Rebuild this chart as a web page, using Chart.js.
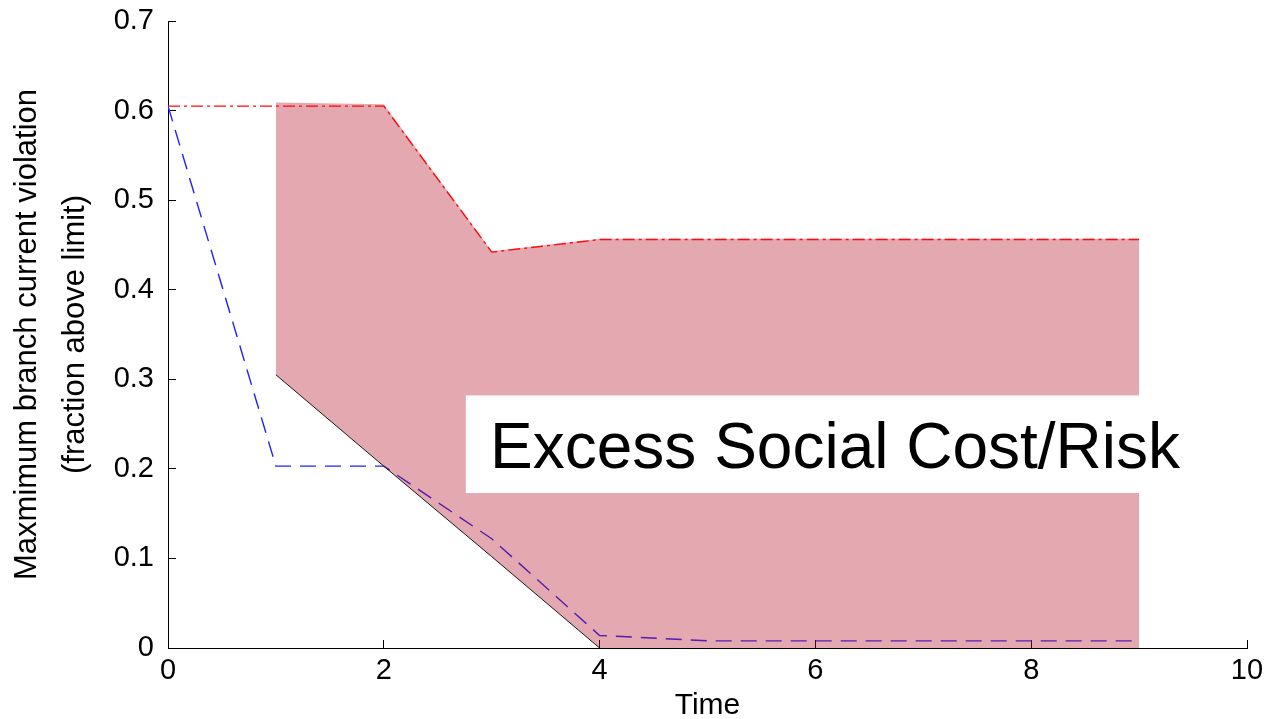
<!DOCTYPE html>
<html>
<head>
<meta charset="utf-8">
<script src="https://cdn.jsdelivr.net/npm/chart.js@4/dist/chart.umd.min.js"></script>
<style>
  html, body { margin: 0; padding: 0; background: #ffffff; }
  #wrap { width: 1271px; height: 719px; }
</style>
</head>
<body>
<div id="wrap"><canvas id="chart" width="1271" height="719"></canvas></div>
<script>
// Time steps of the simulation
const timeSteps = [0, 1, 2, 3, 4, 5, 6, 7, 8, 9];
// Worst-case violation (red dash-dot)
const worstCase = [0.605, 0.605, 0.605, 0.442, 0.456, 0.456, 0.456, 0.456, 0.456, 0.456];
// Controlled violation (blue dashed)
const controlled = [0.605, 0.203, 0.203, 0.122, 0.014, 0.008, 0.008, 0.008, 0.008, 0.008];

// Shaded band between the ideal bound and the worst case
const bandTime = [1, 2, 3, 4, 5, 6, 7, 8, 9];
const bandTop = [0.609, 0.607, 0.443, 0.457, 0.457, 0.457, 0.457, 0.457, 0.457];
const bandBottom = [0.305, 0.203, 0.102, 0, 0, 0, 0, 0, 0];

// Ideal bound (thin black line)
const boundTime = [1, 2, 3, 4];
const boundValues = [0.305, 0.203, 0.102, 0];

// Axis ticks
const xTicks = [0, 2, 4, 6, 8, 10];
const yTicks = [0, 0.1, 0.2, 0.3, 0.4, 0.5, 0.6, 0.7];

const yTitle = ['Maxmimum branch current violation', '(fraction above limit)'];
const xTitle = 'Time';
const bandLabel = 'Excess Social Cost/Risk';

const FONT = "'Liberation Sans', Arial, Helvetica, sans-serif";

const pts = (xs, ys) => xs.map((x, i) => ({ x: x, y: ys[i] }));

// White label box over the shaded band, placed in data units
const labelBox = { x0: 2.76, x1: 9.47, yTop: 0.282, yBottom: 0.173, textX: 2.985, textY: 0.2015 };

const bandLabelPlugin = {
  id: 'bandLabel',
  afterDatasetsDraw(chart) {
    const { ctx, scales: { x, y } } = chart;
    const left = x.getPixelForValue(labelBox.x0);
    const right = x.getPixelForValue(labelBox.x1);
    const top = y.getPixelForValue(labelBox.yTop);
    const bottom = y.getPixelForValue(labelBox.yBottom);
    ctx.save();
    ctx.fillStyle = '#ffffff';
    ctx.fillRect(left, top, right - left, bottom - top);
    ctx.fillStyle = '#000000';
    ctx.font = '64px ' + FONT;
    ctx.textAlign = 'left';
    ctx.textBaseline = 'alphabetic';
    ctx.fillText(bandLabel, x.getPixelForValue(labelBox.textX), y.getPixelForValue(labelBox.textY));
    ctx.restore();
  }
};

new Chart(document.getElementById('chart'), {
  type: 'line',
  data: {
    datasets: [
      {
        label: 'bound',
        data: pts(boundTime, boundValues),
        borderColor: '#1a1a1a',
        borderWidth: 1,
        pointRadius: 0,
        fill: false,
        order: 0
      },
      {
        label: 'worst',
        data: pts(timeSteps, worstCase),
        borderColor: '#ff0a0a',
        borderWidth: 1.4,
        borderDash: [12, 4, 3, 4],
        pointRadius: 0,
        fill: false,
        order: 1
      },
      {
        label: 'bandTop',
        data: pts(bandTime, bandTop),
        borderWidth: 0,
        borderColor: 'rgba(0,0,0,0)',
        backgroundColor: 'rgba(180, 20, 40, 0.37)',
        pointRadius: 0,
        fill: '+1',
        order: 2
      },
      {
        label: 'bandBottom',
        data: pts(bandTime, bandBottom),
        borderWidth: 0,
        borderColor: 'rgba(0,0,0,0)',
        pointRadius: 0,
        fill: false,
        order: 3
      },
      {
        label: 'controlled',
        data: pts(timeSteps, controlled),
        borderColor: '#2020ff',
        borderWidth: 1.4,
        borderDash: [16, 9],
        pointRadius: 0,
        fill: false,
        order: 4
      }
    ]
  },
  options: {
    responsive: false,
    animation: false,
    events: [],
    layout: { padding: { top: 21, right: 24, bottom: 0, left: 0 } },
    plugins: {
      legend: { display: false },
      tooltip: { enabled: false },
      title: { display: false }
    },
    elements: { line: { tension: 0 } },
    scales: {
      x: {
        type: 'linear',
        min: 0,
        max: 10,
        afterFit: (s) => { s.height = 71; s.paddingLeft = 0; s.paddingRight = 0; },
        afterBuildTicks: (s) => { s.ticks = xTicks.map(v => ({ value: v })); },
        grid: {
          drawOnChartArea: false,
          drawTicks: true,
          tickLength: -8,
          color: '#000000',
          lineWidth: 1
        },
        border: { display: true, color: '#000000', width: 1 },
        ticks: {
          color: '#000000',
          font: { family: FONT, size: 29 },
          padding: 14,
          maxRotation: 0,
          callback: (v) => String(v)
        },
        title: {
          display: true,
          text: xTitle,
          color: '#000000',
          font: { family: FONT, size: 30 },
          padding: { top: 0, bottom: -5 }
        }
      },
      y: {
        type: 'linear',
        min: 0,
        max: 0.7,
        afterFit: (s) => { s.width = 168; s.paddingTop = 0; s.paddingBottom = 0; },
        afterBuildTicks: (s) => { s.ticks = yTicks.map(v => ({ value: v })); },
        grid: {
          drawOnChartArea: false,
          drawTicks: true,
          tickLength: -8,
          color: '#000000',
          lineWidth: 1
        },
        border: { display: true, color: '#000000', width: 1 },
        ticks: {
          color: '#000000',
          font: { family: FONT, size: 29 },
          padding: 22,
          callback: (v) => (v === 0 ? '0' : v.toFixed(1))
        },
        title: {
          display: true,
          text: yTitle,
          color: '#000000',
          font: { family: FONT, size: 31, lineHeight: 1.55 },
          padding: { top: 3, bottom: 0 }
        }
      }
    }
  },
  plugins: [bandLabelPlugin]
});
</script>
</body>
</html>
